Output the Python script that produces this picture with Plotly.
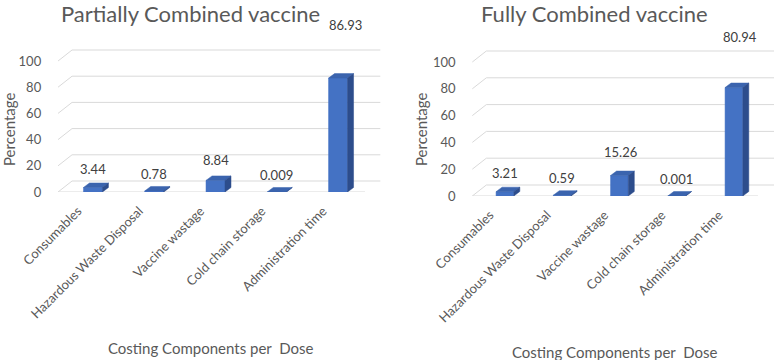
import plotly.graph_objects as go

W, H = 774, 360

categories = ["Consumables", "Hazardous Waste Disposal", "Vaccine wastage",
              "Cold chain storage", "Administration time"]
partial_values = [3.44, 0.78, 8.84, 0.009, 86.93]
partial_labels = ["3.44", "0.78", "8.84", "0.009", "86.93"]
fully_values = [3.21, 0.59, 15.26, 0.001, 80.94]
fully_labels = ["3.21", "0.59", "15.26", "0.001", "80.94"]
y_ticks = [0, 20, 40, 60, 80, 100]

FRONT = "#4472C4"
TOP = "#3B64AE"
SIDE = "#2D4D8C"
GRID = "#D9D9D9"
TXT = "#595959"
FONT = "Lato"

panels = [
    dict(name="Partially Combined vaccine", values=partial_values, labels=partial_labels,
         x0=56.2, x1=384.0, xr=[-0.6, 4.75], y0px=192, y100px=61, xa="x", ya="y",
         title_x=190, xt_x=210, xt_y=348, yt_x=9, grid_end=4.69, floor_end=4.44),
    dict(name="Fully Combined vaccine", values=fully_values, labels=fully_labels,
         x0=470.6, x1=774.0, xr=[-0.6, 4.7], y0px=196, y100px=62, xa="x2", ya="y2",
         title_x=594, xt_x=614, xt_y=352, yt_x=421, grid_end=4.7, floor_end=4.42),
]

fig = go.Figure()
annotations = []
BAR_W = 0.31
YMAX = 110
LABEL_SHIFT_PX = 15


def poly(xs, ys, color, xa, ya):
    return go.Scatter(x=xs, y=ys, mode="lines", fill="toself", fillcolor=color,
                      line=dict(color=color, width=0.5), hoverinfo="skip",
                      showlegend=False, xaxis=xa, yaxis=ya)


for k, p in enumerate(panels):
    ppx = (p["x1"] - p["x0"]) / (p["xr"][1] - p["xr"][0])
    ppy = (p["y0px"] - p["y100px"]) / 100.0
    dx = 6 / ppx
    dy = 4.5 / ppy
    gdx = 14 / ppx
    gdy = 11 / ppy
    xs = list(range(len(categories)))
    xa, ya = p["xa"], p["ya"]

    for t in y_ticks:
        fig.add_trace(go.Scatter(
            x=[-0.57, -0.57 + gdx, p["grid_end"]], y=[t, t + gdy, t + gdy],
            mode="lines", line=dict(color=GRID, width=1), hoverinfo="skip",
            showlegend=False, xaxis=xa, yaxis=ya))
    fig.add_trace(go.Scatter(
        x=[-0.57, p["floor_end"]], y=[0, 0], mode="lines",
        line=dict(color=GRID, width=1), hoverinfo="skip", showlegend=False,
        xaxis=xa, yaxis=ya))

    for i, v in zip(xs, p["values"]):
        l, r = i - BAR_W / 2, i + BAR_W / 2
        fig.add_trace(poly([l, r, r, l, l], [0, 0, v, v, 0], FRONT, xa, ya))
        fig.add_trace(poly([l, r, r + dx, l + dx, l], [v, v, v + dy, v + dy, v], TOP, xa, ya))
        fig.add_trace(poly([r, r, r + dx, r + dx, r], [0, v, v + dy, dy, 0], SIDE, xa, ya))

    for i, v, lab in zip(xs, p["values"], p["labels"]):
        annotations.append(dict(
            x=i, y=v, xref=xa, yref=ya, text=lab, showarrow=False,
            yshift=17 + 0.42 * v, xshift=0.08 * v,
            font=dict(family=FONT, size=13, color="#404040")))

    annotations.append(dict(
        x=p["title_x"] / W, y=1 - 14 / H, xref="paper", yref="paper", text=p["name"],
        showarrow=False, font=dict(family=FONT, size=22, color=TXT),
        xanchor="center", yanchor="middle"))
    annotations.append(dict(
        x=p["xt_x"] / W, y=1 - p["xt_y"] / H, xref="paper", yref="paper",
        text="Costing Components per&nbsp; Dose", showarrow=False,
        font=dict(family=FONT, size=15, color=TXT), xanchor="center", yanchor="middle"))
    annotations.append(dict(
        x=p["yt_x"] / W, y=1 - 130 / H, xref="paper", yref="paper", text="Percentage",
        showarrow=False, textangle=-90, font=dict(family=FONT, size=15, color=TXT),
        xanchor="center", yanchor="middle"))

    ytop_px = p["y0px"] - YMAX * ppy
    axis_x = dict(domain=[p["x0"] / W, min(p["x1"] / W, 1.0)], range=p["xr"],
                  tickmode="array", tickvals=[i - LABEL_SHIFT_PX / ppx for i in xs],
                  ticktext=categories, tickangle=-45,
                  showgrid=False, zeroline=False, showline=False, ticks="",
                  tickfont=dict(family=FONT, size=13, color=TXT), ticklabelstandoff=8,
                  anchor=ya, fixedrange=True, automargin=False)
    axis_y = dict(domain=[1 - p["y0px"] / H, 1 - ytop_px / H], range=[0, YMAX],
                  tickmode="array", tickvals=y_ticks, showgrid=False, zeroline=False,
                  showline=False, ticks="", tickfont=dict(family=FONT, size=13, color=TXT),
                  ticklabelstandoff=14, anchor=xa, fixedrange=True, automargin=False)
    suffix = "" if k == 0 else "2"
    fig.update_layout(**{"xaxis" + suffix: axis_x, "yaxis" + suffix: axis_y})

fig.update_layout(
    width=W, height=H, margin=dict(l=0, r=0, t=0, b=0),
    paper_bgcolor="white", plot_bgcolor="white",
    annotations=annotations, font=dict(family=FONT, color=TXT), showlegend=False)

fig.write_html("out.html", config={"displayModeBar": False},
               post_script="document.body.style.margin='0px';document.body.style.overflow='hidden';")
